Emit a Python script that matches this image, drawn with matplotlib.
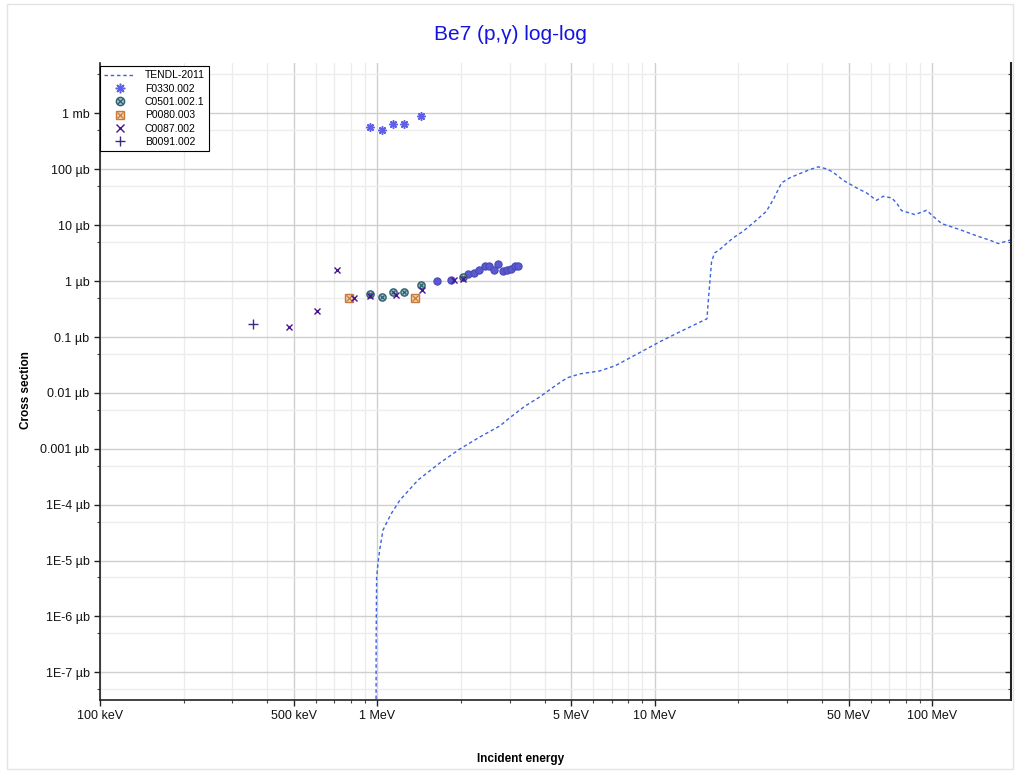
import matplotlib
matplotlib.use('Agg')
import matplotlib.pyplot as plt
from matplotlib.legend_handler import HandlerTuple
from matplotlib.patches import Rectangle

plt.rcParams['font.family'] = ['Liberation Sans', 'DejaVu Sans']

# TENDL-2011 evaluation (energy in MeV, cross section in microbarn)
tendl_e = [0.988, 0.989, 0.993, 1.007, 1.021, 1.047, 1.091, 1.125, 1.205, 1.40,
           1.68, 1.98, 2.34, 2.76, 3.00, 3.40, 3.85, 4.36, 4.82, 5.37, 6.34,
           7.18, 8.13, 9.2, 10.4, 12.3, 13.9, 15.4, 15.6, 15.8, 16.0, 16.4,
           17.1, 19.1, 20.8, 22.6, 25.2, 26.7, 28.6, 30.6, 33.3, 36.2, 38.8,
           41.6, 43.9, 47.7, 53.3, 57.9, 62.9, 66.5, 71.3, 74.3, 77.4, 86.5,
           95.3, 100.7, 108, 126, 144, 161, 173, 190, 200]
tendl_xs = [1e-9, 3.7e-7, 5.0e-6, 1.0e-5, 1.67e-5, 3.5e-5, 5.3e-5, 7.1e-5,
            1.21e-4, 2.76e-4, 5.6e-4, 9.9e-4, 1.63e-3, 2.56e-3, 3.6e-3, 5.8e-3,
            8.5e-3, 1.33e-2, 1.86e-2, 2.19e-2, 2.48e-2, 3.05e-2, 4.24e-2,
            5.9e-2, 8.2e-2, 0.124, 0.166, 0.212, 0.498, 1.06, 2.23, 3.19, 3.66,
            5.9, 7.8, 11.0, 17.7, 28.8, 57.3, 70.4, 84.1, 99.2, 111, 102, 88.7,
            63.8, 46.6, 37.9, 27.9, 33.0, 30.8, 25.1, 18.3, 15.5, 18.5, 14.4,
            10.7, 8.3, 6.5, 5.4, 4.7, 5.4, 5.6]

f0330_e = [0.94, 1.04, 1.14, 1.25, 1.44]
f0330_xs = [578, 511, 635, 643, 884]

c0501_e = [0.94, 1.04, 1.14, 1.25, 1.44, 2.04]
c0501_xs = [0.578, 0.519, 0.628, 0.646, 0.861, 1.21]

p0080_e = [0.789, 1.37]
p0080_xs = [0.505, 0.498]

c0087_e = [0.479, 0.607, 0.715, 0.821, 0.942, 1.166, 1.446, 1.89, 2.04]
c0087_xs = [0.150, 0.295, 1.56, 0.49, 0.532, 0.555, 0.70, 1.03, 1.10]

b0091_e = [0.356]
b0091_xs = [0.170]

# unlabelled filled-circle data set
dots_e = [1.64, 1.84, 2.12, 2.23, 2.33, 2.44, 2.53, 2.63, 2.72, 2.83, 2.94,
          3.03, 3.13, 3.22]
dots_xs = [1.02, 1.05, 1.36, 1.42, 1.57, 1.89, 1.83, 1.60, 2.02, 1.49, 1.56,
           1.63, 1.89, 1.83]

x_ticks = [0.1, 0.5, 1, 5, 10, 50, 100]
x_labels = ['100 keV', '500 keV', '1 MeV', '5 MeV', '10 MeV', '50 MeV', '100 MeV']
y_ticks = [1e-7, 1e-6, 1e-5, 1e-4, 1e-3, 1e-2, 1e-1, 1, 10, 100, 1000]
y_labels = ['1E-7 µb', '1E-6 µb', '1E-5 µb', '1E-4 µb', '0.001 µb', '0.01 µb',
            '0.1 µb', '1 µb', '10 µb', '100 µb', '1 mb']

XLIM = (0.1, 192)
YLIM = (3.2e-8, 8000)

fig = plt.figure(figsize=(10.2, 7.73), dpi=100)
ax = fig.add_axes([100 / 1020, 73 / 773, 911 / 1020, 637 / 773])
fig.patches.append(Rectangle((7 / 1020, 4 / 773), 1006 / 1020, 765 / 773,
                             transform=fig.transFigure, fill=False,
                             edgecolor='#e4e4e4', lw=1))

ax.set_xscale('log')
ax.set_yscale('log')
ax.set_xlim(*XLIM)
ax.set_ylim(*YLIM)

minor_x = [m * 10.0 ** k for k in range(-1, 3) for m in (2, 3, 4, 6, 7, 8, 9)]
minor_x = [v for v in minor_x if v < XLIM[1]]
minor_y = [5 * 10.0 ** k for k in range(-8, 4)]
ax.set_xticks(x_ticks)
ax.set_xticklabels(x_labels)
ax.set_xticks(minor_x, minor=True)
ax.set_yticks(y_ticks)
ax.set_yticklabels(y_labels)
ax.set_yticks(minor_y, minor=True)
ax.tick_params(axis='both', which='major', labelsize=9, length=4, width=1,
               direction='out', colors='#222222', labelcolor='#111111')
ax.tick_params(axis='both', which='minor', length=2.5, width=0.8,
               direction='out', colors='#444444')
ax.grid(True, which='major', color='#cfcfcf', lw=1)
ax.grid(True, which='minor', color='#ececec', lw=1)
ax.set_axisbelow(True)
ax.spines['top'].set_visible(False)
ax.spines['right'].set_visible(False)
for s in ('left', 'bottom'):
    ax.spines[s].set_color('#222222')
    ax.spines[s].set_linewidth(1.2)

# right-hand axis: inward ticks, no labels
ax2 = ax.twinx()
ax2.set_yscale('log')
ax2.set_ylim(*YLIM)
ax2.set_yticks(y_ticks)
ax2.set_yticklabels([])
ax2.set_yticks(minor_y, minor=True)
ax2.set_yticklabels([], minor=True)
ax2.tick_params(axis='y', which='major', direction='in', length=4, width=1,
                colors='#222222')
ax2.tick_params(axis='y', which='minor', direction='in', length=2.5,
                width=0.8, colors='#444444')
for s in ('top', 'left', 'bottom'):
    ax2.spines[s].set_visible(False)
ax2.spines['right'].set_color('#222222')
ax2.spines['right'].set_linewidth(1.5)

line, = ax.plot(tendl_e, tendl_xs, ls=(0, (2.5, 2)), color='#3d62de', lw=1)
h_f, = ax.plot(f0330_e, f0330_xs, ls='none', marker=(8, 2, 0), ms=6,
               mew=1.1, color='#5f5fe8')
ax.plot(dots_e, dots_xs, ls='none', marker='o', ms=5.2, mfc='#5a5ad0',
        mec='#4848b8', mew=0.8)
h_c1, = ax.plot(c0501_e, c0501_xs, ls='none', marker='o', ms=5.2,
                mfc='#9cc0c8', mec='#2f5f6e', mew=1)
h_c2, = ax.plot(c0501_e, c0501_xs, ls='none', marker='x', ms=3.4,
                color='#2f5f6e', mew=0.9)
h_p1, = ax.plot(p0080_e, p0080_xs, ls='none', marker='s', ms=5.6,
                mfc='#f2d4b0', mec='#c87a3c', mew=1)
h_p2, = ax.plot(p0080_e, p0080_xs, ls='none', marker='x', ms=4,
                color='#c87a3c', mew=0.9)
h_x, = ax.plot(c0087_e, c0087_xs, ls='none', marker='x', ms=4.5,
               color='#4a1490', mew=1)
h_b, = ax.plot(b0091_e, b0091_xs, ls='none', marker='+', ms=6.5,
               color='#3a2c80', mew=1)

leg = ax.legend([line, h_f, (h_c1, h_c2), (h_p1, h_p2), h_x, h_b],
                ['TENDL-2011', 'F0330.002', 'C0501.002.1', 'P0080.003',
                 'C0087.002', 'B0091.002'],
                handler_map={tuple: HandlerTuple(ndivide=1)}, numpoints=1,
                loc='upper left', bbox_to_anchor=(0.0, 0.995), fontsize=7.5,
                frameon=True, fancybox=False, edgecolor='#000000',
                framealpha=1, borderpad=0.4, labelspacing=0.32,
                handlelength=3.0, handletextpad=0.9, borderaxespad=0.0,
                markerscale=1.15)
leg.get_frame().set_linewidth(0.8)
leg.set_zorder(10)

ax.set_xlabel('Incident energy', fontsize=8.5, fontweight='bold')
ax.xaxis.set_label_coords(0.462, -0.083)
ax.set_ylabel('Cross section', fontsize=8.5, fontweight='bold')
ax.yaxis.set_label_coords(-0.075, 0.487)
fig.text(0.5, 0.955, 'Be7 (p,\u03b3) log-log', ha='center', va='center',
         fontsize=15, color='#1414e0')

fig.savefig('out.png', dpi=100)
